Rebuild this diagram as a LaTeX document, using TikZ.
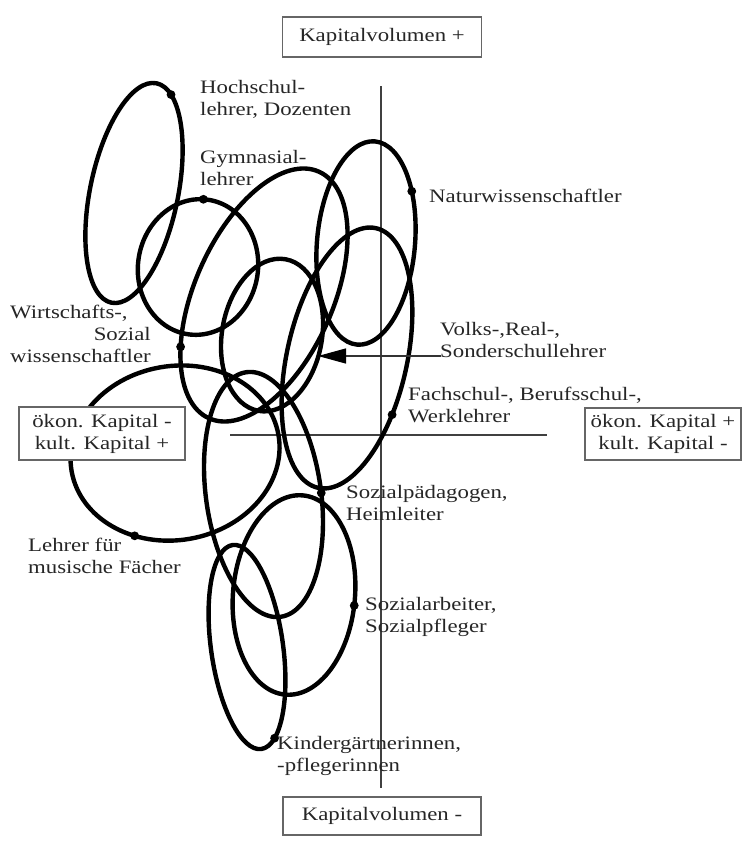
\documentclass[tikz,border=0pt]{standalone}
\usepackage{fontspec}
\setmainfont{Liberation Serif}[FakeStretch=1.2]
\usetikzlibrary{arrows.meta}
\newcommand{\mylab}[1]{\begin{tabular}[t]{@{}l@{}}#1\end{tabular}}
% ellipse: cx, cy(y up), rx, ry, rot, name
\newcommand{\myell}[6]{%
  \coordinate (#6) at (#1,#2);
  \draw[ell, rotate around={#5:(#6)}] (#6) ellipse [x radius=#3pt, y radius=#4pt];}
% dot on ellipse: cx, cy, rx, ry, rot, t, name
\newcommand{\elldot}[7]{%
  \coordinate (#7) at ({#1+#3*cos(#6)*cos(#5)-#4*sin(#6)*sin(#5)},{#2+#3*cos(#6)*sin(#5)+#4*sin(#6)*cos(#5)});
  \fill (#7) circle [radius=4.4pt];}
\begin{document}
\begin{tikzpicture}[x=1pt,y=1pt,
  ell/.style={line width=4.4pt, line join=round},
  axisline/.style={line width=1.3pt, draw=black!75},
  box/.style={draw=black!60, fill=white, line width=1.5pt, inner sep=0pt, align=center, text=black!85},
  lab/.style={anchor=base west, inner sep=0pt, text=black!85},
  font=\fontsize{19}{22}\selectfont]
\useasboundingbox (0,0) rectangle (744,-855);
\fill[white] (0,0) rectangle (744,-855);

% axes
\coordinate (vt) at (381,-86);
\coordinate (vb) at (381,-788);
\coordinate (hl) at (230,-435);
\coordinate (hr) at (547,-435);
\draw[axisline] (vt) -- (vb);
\draw[axisline] (hl) -- (hr);

% ellipses
\myell{134}{-193}{44}{112}{-11.6}{cH}
\myell{198}{-267}{60}{68}{-9}{cG}
\myell{264}{-295}{69}{135}{-24}{cW}
\myell{366}{-243}{49}{102}{-5}{cN}
\myell{347}{-358}{60}{133}{-12.6}{cF}
\myell{272}{-335}{50}{77}{-10}{cV}
\myell{175}{-453}{105}{87}{10}{cL}
\myell{263.5}{-494.5}{57.5}{123.5}{8}{cS}
\myell{294}{-595}{61}{100}{-5}{cSA}
\myell{247}{-647}{36}{103}{8}{cK}

% dots
\elldot{134}{-193}{44}{112}{-11.6}{68}{dH}
\elldot{198}{-267}{60}{68}{-9}{95}{dG}
\elldot{264}{-295}{69}{135}{-24}{217}{dW}
\elldot{366}{-243}{49}{102}{-5}{33}{dN}
\elldot{347}{-358}{60}{133}{-12.6}{-20}{dF}
\elldot{175}{-453}{105}{87}{10}{239}{dL}
\elldot{263.5}{-494.5}{57.5}{123.5}{8}{-3}{dS}
\elldot{294}{-595}{61}{100}{-5}{-3}{dSA}
\elldot{247}{-647}{36}{103}{8}{-66}{dK}

% boxes
\node[box, minimum width=199pt, minimum height=40pt] (kvp) at (382,-37) {Kapitalvolumen +};
\node[box, minimum width=198pt, minimum height=38pt] (kvm) at (382,-816) {Kapitalvolumen -};
\node[box, minimum width=166pt, minimum height=53pt] (okl) at (102,-433.5) {ökon. Kapital -\\kult. Kapital +};
\node[box, minimum width=156pt, minimum height=52pt] (okr) at (663,-434) {ökon. Kapital +\\kult. Kapital -};

% labels
\node[lab] (tH) at (200,-93) {\mylab{Hochschul-\\lehrer, Dozenten}};
\node[lab] (tG) at (200,-163) {\mylab{Gymnasial-\\lehrer}};
\node[lab] (tN) at (429,-202) {Naturwissenschaftler};
\node[lab] (tW) at (10,-318) {\mylab{Wirtschafts-,\\ \hfill Sozial\\wissenschaftler}};
\node[lab] (tV) at (440,-335) {\mylab{Volks-,Real-,\\Sonderschullehrer}};
\node[lab] (tF) at (408,-400) {\mylab{Fachschul-, Berufsschul-,\\Werklehrer}};
\node[lab] (tS) at (346,-498) {\mylab{Sozialpädagogen,\\Heimleiter}};
\node[lab] (tL) at (28,-551) {\mylab{Lehrer für\\musische Fächer}};
\node[lab] (tSA) at (365,-610) {\mylab{Sozialarbeiter,\\Sozialpfleger}};
\node[lab] (tK) at (277,-749) {\mylab{Kindergärtnerinnen,\\-pflegerinnen}};

% arrow to Volks ellipse
\coordinate (arrS) at (441,-356);
\coordinate (arrT) at (318,-356);
\draw[line width=1.3pt, draw=black!80, -{Triangle[length=28pt,width=15pt,color=black,fill=black]}] (arrS) -- (arrT);
\end{tikzpicture}
\end{document}
